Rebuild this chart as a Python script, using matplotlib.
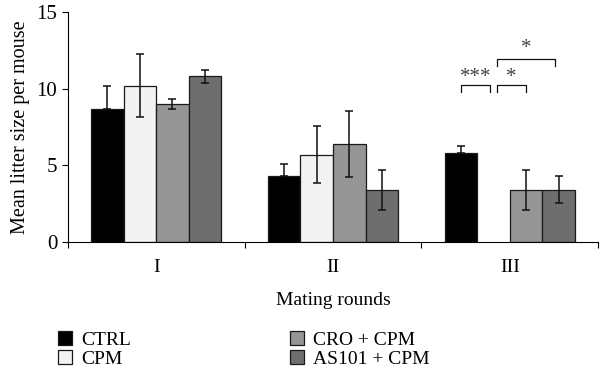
import numpy as np
import matplotlib.pyplot as plt
from matplotlib.patches import Patch

plt.rcParams['font.family'] = ['Liberation Serif', 'DejaVu Serif']

rounds = ['I', 'II', 'III']
groups = ['CTRL', 'CPM', 'CRO + CPM', 'AS101 + CPM']
means = [
    [8.7, 4.3, 5.8],     # CTRL
    [10.2, 5.7, 0.0],    # CPM
    [9.0, 6.4, 3.4],     # CRO + CPM
    [10.8, 3.4, 3.4],    # AS101 + CPM
]
errs = [
    [1.5, 0.8, 0.45],
    [2.05, 1.85, 0.0],
    [0.35, 2.15, 1.33],
    [0.4, 1.33, 0.88],
]
colors = ['#000000', '#f3f3f3', '#959595', '#6e6e6e']

fig = plt.figure(figsize=(6, 3.79), dpi=100)
ax = fig.add_axes([0.113, 0.3615, 0.884, 0.6065])

x = np.arange(len(rounds))
w = 0.184
for i, g in enumerate(groups):
    pos = x + (i - 1.5) * w
    vals = np.array(means[i])
    e = np.array(errs[i])
    show = vals > 0
    ax.bar(pos[show], vals[show], w, color=colors[i], edgecolor='#1a1a1a',
           linewidth=0.9, label=g, zorder=2)
    # on the black bars only the upper half of the error bar shows
    lower = np.zeros_like(e) if i == 0 else e
    ax.errorbar(pos[show], vals[show], yerr=[lower[show], e[show]], fmt='none',
                ecolor='#111111', elinewidth=1.1, capsize=3, capthick=1.1, zorder=3)

# significance brackets for round III
def bracket(x0, x1, y, h, txt, ty):
    ax.plot([x0, x0, x1, x1], [y - h, y, y, y - h], color='#111111', lw=0.9)
    ax.text((x0 + x1) / 2, ty, txt, ha='center', va='center', fontsize=15, color='#444444')

c3 = x[2] + (np.arange(4) - 1.5) * w
bracket(c3[0], c3[1] - 0.02, 10.25, 0.45, '***', 10.75)
bracket(c3[1] + 0.02, c3[2], 10.25, 0.45, '*', 10.75)
bracket(c3[1] + 0.02, c3[3] - 0.02, 11.95, 0.45, '*', 12.6)

ax.set_xlim(-0.5, 2.5)
ax.set_ylim(0, 15)
ax.set_yticks([0, 5, 10, 15])
ax.set_xticks(x)
ax.set_xticklabels(rounds)
ax.tick_params(axis='x', length=0, pad=12, labelsize=14)
ax.set_xticks([-0.5, 0.5, 1.5, 2.5], minor=True)
ax.tick_params(axis='x', which='minor', length=4, direction='out', width=0.8)
ax.tick_params(axis='y', length=4, width=0.8, labelsize=15)
ax.spines['top'].set_visible(False)
ax.spines['right'].set_visible(False)
ax.spines['left'].set_linewidth(0.8)
ax.spines['bottom'].set_linewidth(0.8)
ax.set_xlabel('Mating rounds', fontsize=14, labelpad=12)
ax.set_ylabel('Mean litter size per mouse', fontsize=14.5, labelpad=5)

handles = [Patch(facecolor=c, edgecolor='#1a1a1a', linewidth=0.9) for c in colors]
fig.legend(handles, groups, ncol=2, loc='upper left', bbox_to_anchor=(0.068, 0.172),
           frameon=False, fontsize=14, handlelength=0.7, handleheight=0.7,
           handletextpad=0.5, columnspacing=8.15, labelspacing=0.05)

fig.savefig('out.png', dpi=100)
